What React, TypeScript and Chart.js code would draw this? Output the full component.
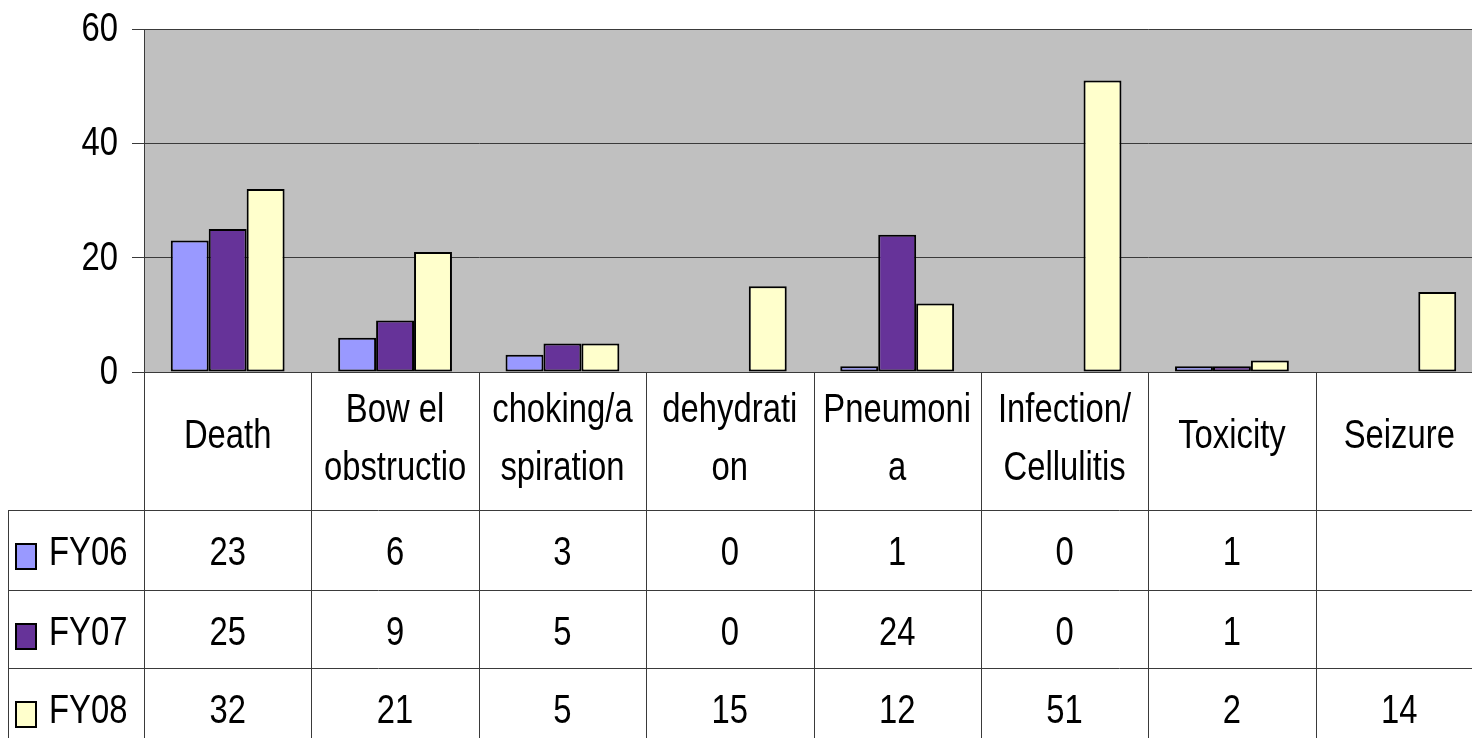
import React, { useEffect, useRef } from "react";
import { Chart, registerables } from "chart.js";

Chart.register(...registerables);

const categories = [
  "Death",
  "Bowel obstruction",
  "choking/aspiration",
  "dehydration",
  "Pneumonia",
  "Infection/Cellulitis",
  "Toxicity",
  "Seizure",
];
const categoryLabelLines = [
  ["Death"],
  ["Bow el", "obstructio"],
  ["choking/a", "spiration"],
  ["dehydrati", "on"],
  ["Pneumoni", "a"],
  ["Infection/", "Cellulitis"],
  ["Toxicity"],
  ["Seizure"],
];
const seriesNames = ["FY06", "FY07", "FY08"];
const fy06 = [23, 6, 3, 0, 1, 0, 1, null];
const fy07 = [25, 9, 5, 0, 24, 0, 1, null];
const fy08 = [32, 21, 5, 15, 12, 51, 2, 14];
const seriesColors = ["#9999FF", "#663399", "#FFFFCC"];
const yMin = 0;
const yMax = 60;
const yStep = 20;

const FONT = '"Liberation Sans", Arial, sans-serif';
const FONT_SIZE = 41;
const SX = 0.8;
const LINE = "#3a3a3a";

function drawText(ctx: CanvasRenderingContext2D, text: string, x: number, y: number, align: CanvasTextAlign) {
  ctx.save();
  ctx.translate(x, y);
  ctx.scale(SX, 1);
  ctx.textAlign = align;
  ctx.textBaseline = "alphabetic";
  ctx.fillText(text, 0, 0);
  ctx.restore();
}

const plotBg = {
  id: "plotBg",
  beforeDraw(chart: any) {
    const { ctx, chartArea: a } = chart;
    ctx.save();
    ctx.fillStyle = "#C0C0C0";
    ctx.fillRect(a.left, a.top, a.right - a.left, a.bottom - a.top);
    ctx.restore();
  },
};

const dataTable = {
  id: "dataTable",
  afterDraw(chart: any) {
    const { ctx, chartArea: a, width, height } = chart;
    const x = chart.scales.x;
    const y = chart.scales.y;
    const n = categories.length;
    const bounds: number[] = [a.left];
    for (let i = 1; i < n; i++) {
      bounds.push((x.getPixelForValue(i - 1) + x.getPixelForValue(i)) / 2);
    }
    bounds.push(a.right);
    const rowLines = [510, 590, 668];
    const bottom = height + 10;
    const tableLeft = 8;
    const series = [fy06, fy07, fy08];
    const rowBase = [565, 645, 723];

    ctx.save();
    ctx.strokeStyle = LINE;
    ctx.lineWidth = 1;
    ctx.beginPath();
    for (const b of bounds) {
      const xx = Math.round(b) + 0.5;
      ctx.moveTo(xx, a.bottom);
      ctx.lineTo(xx, bottom);
    }
    ctx.moveTo(tableLeft + 0.5, rowLines[0]);
    ctx.lineTo(tableLeft + 0.5, bottom);
    for (const r of rowLines) {
      ctx.moveTo(tableLeft, r + 0.5);
      ctx.lineTo(width, r + 0.5);
    }
    ctx.stroke();

    ctx.fillStyle = "#000";
    ctx.font = `${FONT_SIZE}px ${FONT}`;

    // y-axis tick labels, positioned by the y scale
    for (const t of y.ticks) {
      const py = y.getPixelForValue(t.value);
      drawText(ctx, String(t.value), 118, py + 12, "right");
    }

    for (let i = 0; i < n; i++) {
      const cx = x.getPixelForValue(i);
      const lines = categoryLabelLines[i];
      const bases = lines.length === 1 ? [448] : [422, 480];
      lines.forEach((t, k) => drawText(ctx, t, cx, bases[k], "center"));
      series.forEach((s, r) => {
        const v = s[i];
        if (v !== null && v !== undefined) drawText(ctx, String(v), cx, rowBase[r], "center");
      });
    }

    seriesNames.forEach((name, r) => {
      const base = rowBase[r];
      ctx.fillStyle = seriesColors[r];
      ctx.fillRect(16, base - 21, 20, 25);
      ctx.strokeStyle = "#000";
      ctx.lineWidth = 2;
      ctx.strokeRect(16, base - 21, 20, 25);
      ctx.fillStyle = "#000";
      drawText(ctx, name, 49, base, "left");
    });
    ctx.restore();
  },
};

export default function App() {
  const ref = useRef<HTMLCanvasElement | null>(null);

  useEffect(() => {
    if (!ref.current) return;
    const chart = new Chart(ref.current, {
      type: "bar",
      data: {
        labels: categories,
        datasets: seriesNames.map((name, i) => ({
          label: name,
          data: [fy06, fy07, fy08][i] as any,
          backgroundColor: seriesColors[i],
          borderColor: "#000",
          borderWidth: 2,
          borderSkipped: false,
          categoryPercentage: 0.68,
          barPercentage: 1,
        })),
      },
      options: {
        animation: false,
        responsive: false,
        devicePixelRatio: 1,
        layout: { padding: { top: 29, left: 0, right: 7, bottom: 366 } },
        plugins: { legend: { display: false }, tooltip: { enabled: false } },
        scales: {
          x: { display: false },
          y: {
            min: yMin,
            max: yMax,
            ticks: { stepSize: yStep, display: false },
            grid: { color: LINE, lineWidth: 1, tickLength: 12, drawTicks: true },
            border: { color: LINE, width: 1 },
            afterFit(scale: any) {
              scale.width = 144;
            },
          },
        },
      },
      plugins: [plotBg, dataTable],
    });
    return () => chart.destroy();
  }, []);

  return (
    <div
      style={{
        position: "fixed",
        left: 0,
        top: 0,
        width: 1472,
        height: 738,
        overflow: "hidden",
        background: "#fff",
      }}
    >
      <canvas ref={ref} width={1490} height={738} style={{ display: "block", width: 1490, height: 738 }} />
    </div>
  );
}
